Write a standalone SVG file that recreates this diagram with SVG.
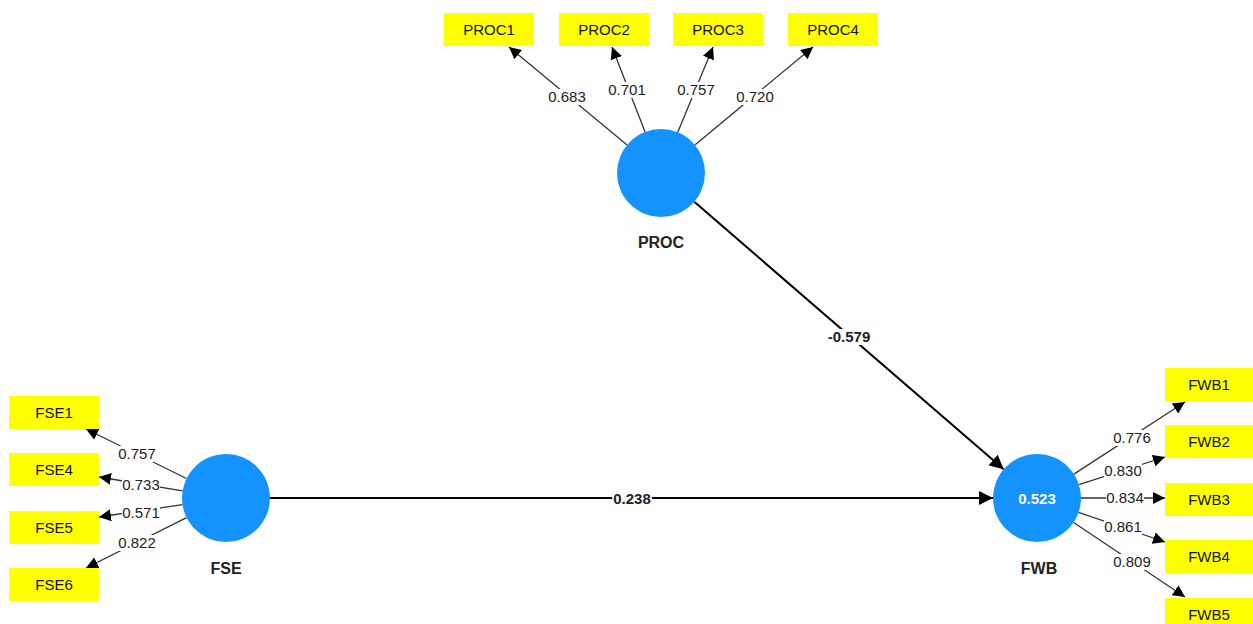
<svg xmlns="http://www.w3.org/2000/svg" width="1253" height="624" viewBox="0 0 1253 624">
  <style>
    .lv { fill: #1493ff; }
    .ind rect { fill: #ffff00; }
    .ind text { font-family: "Liberation Sans", Arial, sans-serif; font-size: 15px; fill: #111; text-anchor: middle; }
    .name { font-family: "Liberation Sans", Arial, sans-serif; font-size: 16px; font-weight: bold; fill: #222; text-anchor: middle; }
    .r2 { font-family: "Liberation Sans", Arial, sans-serif; font-size: 15px; font-weight: bold; fill: #fff; text-anchor: middle; }
    .load { stroke: #333; stroke-width: 1.3; fill: none; marker-end: url(#ah); }
    .path { stroke: #000; stroke-width: 2; fill: none; marker-end: url(#ahb); }
    .lbl { font-family: "Liberation Sans", Arial, sans-serif; font-size: 15px; fill: #222; text-anchor: middle; }
    .lblb { font-family: "Liberation Sans", Arial, sans-serif; font-size: 15px; font-weight: bold; fill: #222; text-anchor: middle; }
    .bg { fill: #fff; }
  </style>
  <defs>
    <marker id="ah" markerUnits="userSpaceOnUse" markerWidth="12" markerHeight="12" refX="12" refY="6" orient="auto">
      <path d="M0,0 L12,6 L0,12 Z" fill="#000"/>
    </marker>
    <marker id="ahb" markerUnits="userSpaceOnUse" markerWidth="14" markerHeight="14" refX="14" refY="7" orient="auto">
      <path d="M0,0 L14,7 L0,14 Z" fill="#000"/>
    </marker>
  </defs>
  <rect width="1253" height="624" fill="#fff"/>

  <!-- connectors -->
  <g id="connectors">
    <!-- PROC outer loadings -->
    <line class="load" x1="627.1" y1="144.9" x2="509" y2="47"/>
    <line class="load" x1="645.1" y1="132" x2="612" y2="47"/>
    <line class="load" x1="677.8" y1="132.3" x2="713" y2="47"/>
    <line class="load" x1="694.9" y1="144.9" x2="813" y2="47"/>
    <!-- FSE outer loadings -->
    <line class="load" x1="186.5" y1="478.5" x2="86" y2="429"/>
    <line class="load" x1="182.6" y1="490.8" x2="99" y2="477"/>
    <line class="load" x1="182.5" y1="504.6" x2="99" y2="517"/>
    <line class="load" x1="186.6" y1="517.7" x2="86" y2="568"/>
    <!-- FWB outer loadings -->
    <line class="load" x1="1073.9" y1="474.1" x2="1185" y2="402"/>
    <line class="load" x1="1078.9" y1="484.6" x2="1165" y2="457"/>
    <line class="load" x1="1081" y1="498" x2="1165" y2="498"/>
    <line class="load" x1="1078.6" y1="512.3" x2="1165" y2="542"/>
    <line class="load" x1="1073.6" y1="522.5" x2="1185" y2="597"/>
    <!-- inner paths -->
    <line class="path" x1="694.3" y1="201.8" x2="1003.7" y2="469.2"/>
    <line class="path" x1="270" y1="498" x2="993" y2="498"/>

    <!-- loading labels -->
    <g>
      <rect class="bg" x="548" y="89" width="38" height="16"/><text class="lbl" x="567" y="102">0.683</text>
      <rect class="bg" x="608" y="82" width="38" height="16"/><text class="lbl" x="627" y="95">0.701</text>
      <rect class="bg" x="677" y="82" width="38" height="16"/><text class="lbl" x="696" y="95">0.757</text>
      <rect class="bg" x="736" y="89" width="38" height="16"/><text class="lbl" x="755" y="102">0.720</text>

      <rect class="bg" x="118" y="446" width="38" height="16"/><text class="lbl" x="137" y="459">0.757</text>
      <rect class="bg" x="122" y="477" width="38" height="16"/><text class="lbl" x="141" y="490">0.733</text>
      <rect class="bg" x="122" y="505" width="38" height="16"/><text class="lbl" x="141" y="518">0.571</text>
      <rect class="bg" x="118" y="535" width="38" height="16"/><text class="lbl" x="137" y="548">0.822</text>

      <rect class="bg" x="1113" y="430" width="38" height="16"/><text class="lbl" x="1132" y="443">0.776</text>
      <rect class="bg" x="1104" y="463" width="38" height="16"/><text class="lbl" x="1123" y="476">0.830</text>
      <rect class="bg" x="1106" y="490" width="38" height="16"/><text class="lbl" x="1125" y="503">0.834</text>
      <rect class="bg" x="1104" y="519" width="38" height="16"/><text class="lbl" x="1123" y="532">0.861</text>
      <rect class="bg" x="1113" y="554" width="38" height="16"/><text class="lbl" x="1132" y="567">0.809</text>

      <rect class="bg" x="827" y="329" width="44" height="16"/><text class="lblb" x="849" y="342">-0.579</text>
      <rect class="bg" x="612" y="491" width="40" height="16"/><text class="lblb" x="632" y="504">0.238</text>
    </g>
  </g>

  <!-- latent variables -->
  <g id="PROC">
    <circle class="lv" cx="661" cy="173" r="44"/>
    <text class="name" x="661" y="248">PROC</text>
  </g>
  <g id="FSE">
    <circle class="lv" cx="226" cy="498" r="44"/>
    <text class="name" x="226" y="574">FSE</text>
  </g>
  <g id="FWB">
    <circle class="lv" cx="1037" cy="498" r="44"/>
    <text class="r2" x="1037" y="504">0.523</text>
    <text class="name" x="1039" y="574">FWB</text>
  </g>

  <!-- indicators -->
  <g id="PROC1" class="ind"><rect x="444" y="13" width="90" height="33"/><text x="489" y="35">PROC1</text></g>
  <g id="PROC2" class="ind"><rect x="559" y="13" width="90" height="33"/><text x="604" y="35">PROC2</text></g>
  <g id="PROC3" class="ind"><rect x="673" y="13" width="90" height="33"/><text x="718" y="35">PROC3</text></g>
  <g id="PROC4" class="ind"><rect x="788" y="13" width="90" height="33"/><text x="833" y="35">PROC4</text></g>

  <g id="FSE1" class="ind"><rect x="9" y="396" width="90" height="33"/><text x="54" y="418">FSE1</text></g>
  <g id="FSE4" class="ind"><rect x="9" y="453" width="90" height="33"/><text x="54" y="475">FSE4</text></g>
  <g id="FSE5" class="ind"><rect x="9" y="511" width="90" height="33"/><text x="54" y="533">FSE5</text></g>
  <g id="FSE6" class="ind"><rect x="9" y="568" width="90" height="33"/><text x="54" y="590">FSE6</text></g>

  <g id="FWB1" class="ind"><rect x="1165" y="368" width="90" height="33"/><text x="1209" y="390">FWB1</text></g>
  <g id="FWB2" class="ind"><rect x="1165" y="425" width="90" height="33"/><text x="1209" y="447">FWB2</text></g>
  <g id="FWB3" class="ind"><rect x="1165" y="483" width="90" height="33"/><text x="1209" y="505">FWB3</text></g>
  <g id="FWB4" class="ind"><rect x="1165" y="540" width="90" height="33"/><text x="1209" y="562">FWB4</text></g>
  <g id="FWB5" class="ind"><rect x="1165" y="598" width="90" height="33"/><text x="1209" y="620">FWB5</text></g>
</svg>
